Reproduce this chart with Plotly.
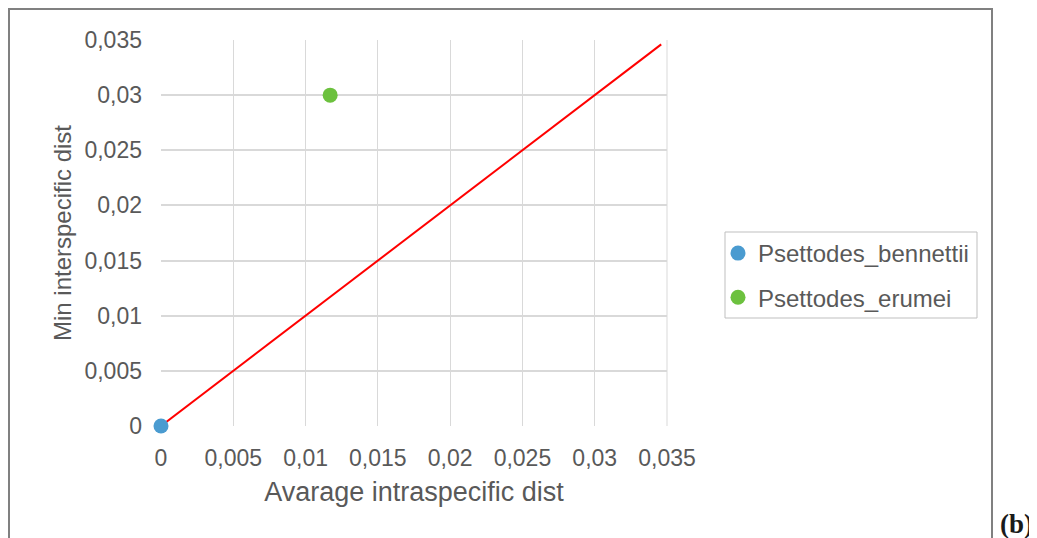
import plotly.graph_objects as go

# Data
species = ["Psettodes_bennettii", "Psettodes_erumei"]
avg_intra = [0.0, 0.0117]
min_inter = [0.0, 0.030]
colors = ["#4a9bd0", "#6cc13e"]
line_x = [0.0, 0.0346]
line_y = [0.0, 0.0346]
tick_vals = [0, 0.005, 0.01, 0.015, 0.02, 0.025, 0.03, 0.035]
tick_text = ["0", "0,005", "0,01", "0,015", "0,02", "0,025", "0,03", "0,035"]

fig = go.Figure()
fig.add_trace(go.Scatter(x=line_x, y=line_y, mode="lines",
                         line=dict(color="#ff0000", width=2), showlegend=False))
for i, name in enumerate(species):
    fig.add_trace(go.Scatter(x=[avg_intra[i]], y=[min_inter[i]], mode="markers", name=name,
                             marker=dict(color=colors[i], size=15), legendgroup=name,
                             cliponaxis=False))

# page body has an 8px margin; figure is sized so it fills the window
OFF = 8
W, H = 1037 - OFF, 538 - OFF
# plot area in screenshot pixels
L, R, T, B = 161, 667, 40, 426
pw, ph = R - L, B - T

def px(x):
    return (x - L) / pw

def py(y):
    return (B - y) / ph

fig.update_layout(
    width=W, height=H,
    margin=dict(l=L - OFF, r=W - (R - OFF), t=T - OFF, b=H - (B - OFF), pad=0),
    paper_bgcolor="white", plot_bgcolor="white",
    font=dict(family="Liberation Sans, Arial, sans-serif", color="#595959", size=23),
    xaxis=dict(range=[0, 0.035], tickvals=tick_vals, ticktext=tick_text,
               showgrid=True, gridcolor="#d9d9d9", gridwidth=1, zeroline=False,
               showline=False, ticks="", ticklabelstandoff=16,
               title=dict(text="Avarage intraspecific dist", font=dict(size=27), standoff=12)),
    yaxis=dict(range=[0, 0.035], tickvals=tick_vals, ticktext=tick_text,
               showgrid=True, gridcolor="#d9d9d9", gridwidth=2, zeroline=False,
               showline=False, ticks="", ticklabelstandoff=18,
               title=dict(text="Min interspecific dist", font=dict(size=24), standoff=6)),
    legend=dict(x=px(718), y=py(231), xanchor="left", yanchor="top",
                borderwidth=0, bgcolor="rgba(0,0,0,0)",
                font=dict(size=24, color="#595959"), itemwidth=30,
                tracegroupgap=10),
    showlegend=True,
)

# legend box
fig.add_shape(type="rect", xref="paper", yref="paper",
              x0=px(725), x1=px(977), y0=py(318), y1=py(232),
              line=dict(color="#bfbfbf", width=1), fillcolor="rgba(0,0,0,0)")

# right edge grid line
fig.add_shape(type="line", xref="paper", yref="paper", x0=1, x1=1, y0=0, y1=1,
              line=dict(color="#d9d9d9", width=1), layer="below")

# outer frame
fig.add_shape(type="rect", xref="paper", yref="paper",
              x0=px(9), x1=px(992), y0=py(560), y1=py(9),
              line=dict(color="#808080", width=2), fillcolor="rgba(0,0,0,0)")

fig.add_annotation(text="<b>(b)</b>", xref="paper", yref="paper", x=px(998), y=py(507),
                   xanchor="left", yanchor="top", showarrow=False,
                   font=dict(family="Liberation Serif, serif", size=27, color="#1a1a1a"))

fig.write_html("out.html")
